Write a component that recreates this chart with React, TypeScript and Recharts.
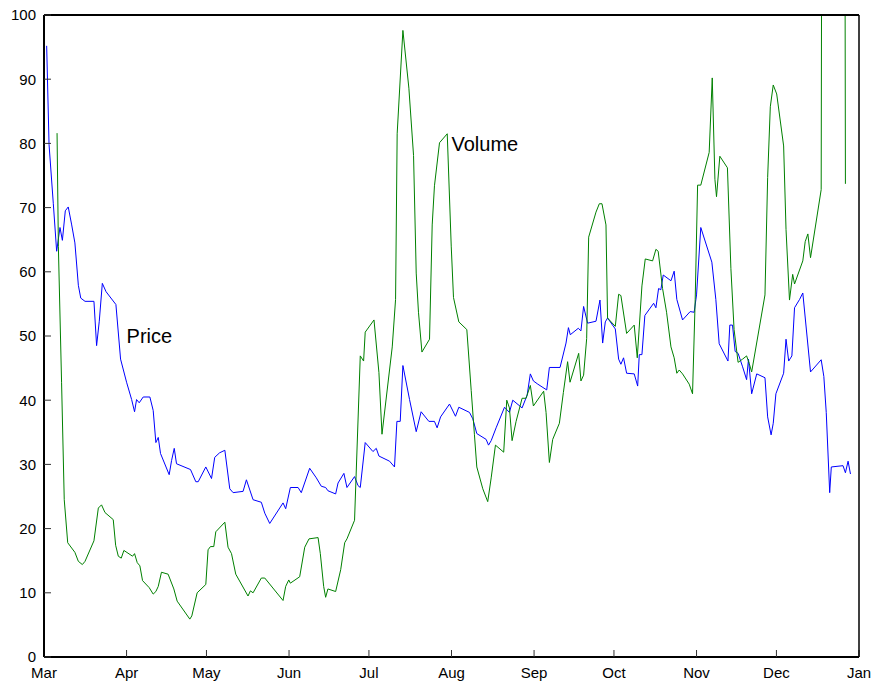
import { Line, LineChart, ReferenceDot, XAxis, YAxis } from "recharts";

// x = days since Mar 1
const monthStarts = [0, 31, 61, 92, 122, 153, 184, 214, 245, 275, 306];
const monthLabels = ["Mar", "Apr", "May", "Jun", "Jul", "Aug", "Sep", "Oct", "Nov", "Dec", "Jan"];
const valueTicks = [0, 10, 20, 30, 40, 50, 60, 70, 80, 90, 100];

const priceDays = [
  1, 1.9, 3.5, 4.75, 6, 6.9, 8, 9.1, 10.4, 11.6, 12.9, 13.8, 15.4, 18.75, 19.75, 20.75, 21.9, 23.3, 27, 28.75,
  31, 32.9, 34, 34.75, 35.75, 37.25, 39.75, 41, 42, 42.9, 43.75, 47, 47.9, 48.9, 49.75, 55, 57, 57.9, 60.75, 62.9,
  64.1, 65.9, 67.9, 69.75, 71, 74.75, 76, 78.5, 81.6, 82.9, 84.75, 89.75, 90.75, 92.5, 95.4, 96.6, 99.75, 102.25, 104.1, 105.75,
  106.6, 109.5, 110.4, 112.6, 113.75, 116.6, 117.9, 118.75, 120.6, 123.5, 124.75, 125.75, 129.75, 131.6, 132.5, 133.75, 134.75, 137.25, 139.75, 141.6,
  144.5, 146.6, 147.6, 148.9, 152.25, 154.5, 155.75, 159.75, 161, 162.5, 166, 166.9, 167.9, 169.75, 172.9, 174.75, 176, 179.5, 181.4, 182.6,
  183.75, 185.4, 188.75, 189.75, 193.75, 196, 196.9, 197.6, 200.6, 201.6, 202.6, 204.1, 207.25, 208.75, 209.75, 210.75, 211.6, 214.5, 215.75, 216.6,
  217.6, 218.75, 221.6, 222.9, 223.5, 224.5, 225.6, 228.9, 229.75, 230.75, 231.6, 232.5, 235.4, 236.6, 237.6, 239.75, 242.6, 244.1, 245, 246.6,
  250.75, 252.25, 253.5, 256.8, 257.5, 258.5, 259.5, 260.6, 262.3, 263.8, 264.5, 265.7, 267.6, 270.7, 271.7, 273, 273.8, 274.8, 277.7, 278.6,
  279.6, 280.8, 281.8, 283.7, 284.9, 287.8, 291.8, 292.8, 293.7, 295, 295.6, 300, 300.9, 301.9, 302.8,
];
const priceValues = [
  95.2, 79.8, 70.6, 63.2, 66.9, 64.9, 69.5, 70.1, 67.3, 64.5, 57.9, 55.9, 55.4, 55.4, 48.5, 52.3, 58.2, 56.9, 54.9, 46.4,
  42.8, 40.1, 38.2, 40.1, 39.6, 40.5, 40.5, 38.4, 33.4, 34.2, 31.7, 28.4, 30.6, 32.5, 30.1, 29.2, 27.3, 27.3, 29.6, 27.8,
  31.1, 31.8, 32.2, 26.2, 25.6, 25.8, 27.6, 24.5, 24.1, 22.4, 20.8, 24.0, 23.1, 26.4, 26.4, 25.6, 29.4, 27.9, 26.6, 26.4,
  25.9, 25.4, 27.1, 28.6, 26.4, 28.1, 26.7, 26.4, 33.4, 32.0, 32.5, 31.3, 30.5, 29.6, 36.7, 36.7, 45.4, 40.1, 35.1, 38.2,
  36.7, 36.7, 35.7, 37.4, 39.4, 37.5, 38.9, 38.1, 37.1, 34.8, 33.9, 33.0, 33.7, 35.7, 38.9, 38.1, 40.0, 38.8, 40.8, 44.1,
  43.0, 42.5, 41.6, 45.1, 45.1, 48.9, 51.3, 50.2, 51.2, 50.8, 54.6, 52.0, 52.3, 55.6, 48.9, 52.2, 52.8, 51.1, 46.4, 45.6,
  46.6, 44.2, 44.1, 42.2, 47.1, 47.1, 53.2, 55.1, 54.4, 57.4, 57.2, 59.5, 58.6, 60.1, 55.7, 52.5, 53.8, 53.7, 56.4, 66.9,
  61.5, 55.7, 48.8, 46.1, 51.7, 51.7, 47.6, 47.3, 45.2, 43.2, 46.4, 41.0, 44.1, 43.5, 37.4, 34.6, 36.4, 41.0, 44.2, 49.5,
  46.1, 46.9, 54.4, 55.7, 56.7, 44.4, 46.3, 43.7, 38.1, 25.6, 29.6, 29.8, 28.7, 30.5, 28.5,
];

const volumeDays = [
  4.9, 5.4, 6.6, 7.6, 8.9, 11.6, 12.9, 14.4, 15.4, 18.75, 20.4, 21.6, 22.9, 26, 26.9, 27.9, 29, 30, 33.25, 34,
  35, 36, 37, 39.5, 41, 42, 42.9, 44.1, 46.6, 48.75, 50, 54.75, 55.5, 57.5, 60.75, 61.6, 62.5, 63.75, 64.5, 67.9,
  69.1, 70.4, 72, 76.6, 77.5, 78.5, 81.6, 82.9, 89.75, 90.75, 91.9, 92.5, 96, 97.9, 99.5, 102.9, 103.75, 105, 105.75, 106.6,
  109.5, 111.4, 112.9, 113.75, 116.6, 118.75, 120, 120.6, 123.9, 125.75, 126.9, 130.75, 132, 132.6, 134.75, 137, 138.75, 139.75, 140.6, 141.9,
  144.75, 145.75, 146.6, 148.5, 151.4, 152.9, 153.75, 155.75, 158.75, 160.4, 161.6, 162.5, 164.75, 166.6, 167.9, 169.5, 172.6, 173.75, 174.75, 175.75,
  177.25, 179.5, 181, 182.6, 183.75, 187.6, 188.5, 189.75, 191, 193.5, 195, 196.6, 197.5, 200.75, 201.6, 202.6, 203.75, 204.5, 207.25, 208.5,
  209.5, 211, 211.6, 214.5, 215.75, 216.6, 218.75, 221.6, 222.75, 224.5, 225.75, 228.5, 229.75, 230.6, 232.25, 233.75, 235.4, 236.6, 237.6, 238.5,
  239.75, 242.25, 243.5, 244.5, 245.4, 246.6, 249.75, 250.9, 251.9, 252.5, 253.75, 256.6, 257.9, 259.1, 260.6, 262.3, 263.8, 264.8, 265.7, 270.7,
  271.7, 272.7, 273.8, 275.1, 277.7, 278.6, 279.9, 281.1, 281.8, 284.9, 285.8, 286.8, 287.8, 291.8, 292.8, 296, 300, 300.9,
];
const volumeValues = [
  81.6, 63.9, 42.8, 24.5, 17.8, 16.3, 14.9, 14.4, 14.9, 18.1, 23.2, 23.7, 22.5, 21.4, 17.4, 15.7, 15.4, 16.6, 15.7, 16.1,
  14.7, 14.2, 11.9, 10.8, 9.8, 10.2, 11.0, 13.2, 12.9, 10.6, 8.7, 5.9, 6.4, 10.0, 11.3, 16.7, 17.2, 17.2, 19.5, 21.0,
  17.1, 16.1, 12.9, 9.5, 10.3, 10.0, 12.3, 12.3, 8.8, 11.0, 12.0, 11.5, 12.5, 17.1, 18.4, 18.6, 16.1, 11.0, 9.3, 10.6,
  10.2, 13.6, 17.8, 18.4, 21.3, 46.9, 46.1, 50.6, 52.5, 44.3, 34.7, 48.3, 55.7, 81.5, 97.6, 88.6, 78.1, 59.8, 53.7, 47.5,
  49.5, 67.3, 73.4, 80.1, 81.5, 64.0, 56.0, 52.2, 51.0, 41.5, 34.7, 29.6, 26.2, 24.2, 27.9, 33.0, 31.9, 40.0, 38.8, 33.7,
  36.7, 40.3, 40.3, 42.3, 39.1, 41.4, 38.1, 30.3, 33.9, 36.4, 41.2, 46.0, 42.8, 47.3, 43.0, 43.9, 49.6, 65.4, 69.3, 70.6,
  70.6, 67.3, 52.8, 51.5, 56.5, 56.3, 50.4, 51.7, 46.6, 57.8, 62.0, 61.7, 63.5, 63.2, 57.4, 53.7, 48.3, 46.6, 44.2, 44.7,
  44.1, 42.5, 41.0, 55.7, 73.5, 73.5, 78.6, 90.2, 74.4, 71.7, 78.0, 76.2, 60.5, 51.0, 45.9, 46.4, 46.9, 45.7, 44.4, 56.4,
  74.7, 85.7, 89.1, 87.7, 79.6, 66.6, 55.6, 59.6, 58.1, 61.7, 64.7, 65.9, 62.2, 72.8, 300, 320, 300, 73.7,
];

const priceData = priceDays.map((day, i) => ({ day, value: priceValues[i] }));
const volumeData = volumeDays.map((day, i) => ({ day, value: volumeValues[i] }));

const font = "'Liberation Sans', Arial, sans-serif";
const tickStyle = { fill: "#000", fontSize: 15 };
const tickLineStyle = { stroke: "#333", strokeWidth: 1 };

export default function App() {
  return (
    <div
      style={{
        position: "absolute",
        left: 0,
        top: 0,
        width: 873,
        height: 682,
        background: "#fff",
        fontFamily: font,
      }}
    >
      <LineChart width={873} height={682} margin={{ top: 14, right: 13, bottom: 0, left: 0 }}>
        <XAxis
          xAxisId="bottom"
          type="number"
          dataKey="day"
          domain={[0, 306]}
          allowDataOverflow
          ticks={monthStarts}
          interval={0}
          tickFormatter={(v: number) => monthLabels[monthStarts.indexOf(v)]}
          height={25}
          tickSize={-7}
          tickMargin={17}
          tick={tickStyle}
          tickLine={tickLineStyle}
          axisLine={{ stroke: "#000", strokeWidth: 2 }}
        />
        <XAxis
          xAxisId="top"
          orientation="top"
          type="number"
          dataKey="day"
          domain={[0, 306]}
          allowDataOverflow
          ticks={monthStarts}
          interval={0}
          height={1}
          tickSize={-7}
          tick={false}
          tickLine={tickLineStyle}
          axisLine={{ stroke: "#000", strokeWidth: 2 }}
        />
        <YAxis
          yAxisId="left"
          type="number"
          domain={[0, 100]}
          allowDataOverflow
          ticks={valueTicks}
          interval={0}
          width={44}
          tickSize={-7}
          tickMargin={15}
          tick={tickStyle}
          tickLine={tickLineStyle}
          axisLine={{ stroke: "#000", strokeWidth: 2 }}
        />
        <YAxis
          yAxisId="right"
          orientation="right"
          type="number"
          domain={[0, 100]}
          allowDataOverflow
          ticks={valueTicks}
          interval={0}
          width={1}
          tickSize={-7}
          tick={false}
          tickLine={tickLineStyle}
          axisLine={{ stroke: "#000", strokeWidth: 1.5 }}
        />
        <Line
          xAxisId="bottom"
          yAxisId="left"
          data={priceData}
          dataKey="value"
          type="linear"
          stroke="#0000ff"
          strokeWidth={1}
          dot={false}
          activeDot={false}
          isAnimationActive={false}
        />
        <Line
          xAxisId="bottom"
          yAxisId="left"
          data={volumeData}
          dataKey="value"
          type="linear"
          stroke="#008000"
          strokeWidth={1}
          dot={false}
          activeDot={false}
          isAnimationActive={false}
        />
        <ReferenceDot
          xAxisId="bottom"
          yAxisId="left"
          x={31}
          y={50}
          r={0}
          fill="none"
          stroke="none"
          label={{ value: "Price", position: "right", offset: 0, fontSize: 20, fill: "#000" }}
        />
        <ReferenceDot
          xAxisId="bottom"
          yAxisId="left"
          x={153}
          y={80}
          r={0}
          fill="none"
          stroke="none"
          label={{ value: "Volume", position: "right", offset: 0, fontSize: 20, fill: "#000" }}
        />
      </LineChart>
    </div>
  );
}
